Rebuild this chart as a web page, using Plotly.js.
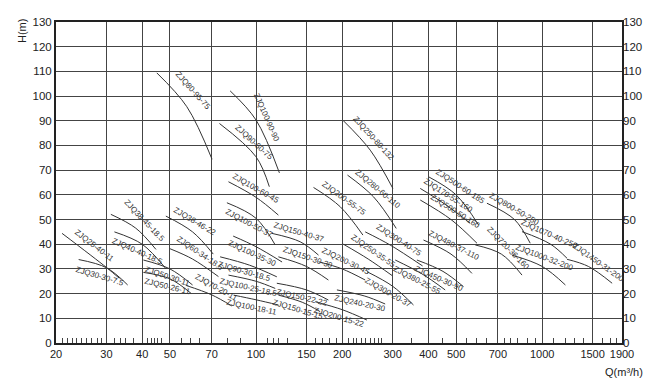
<!DOCTYPE html>
<html><head><meta charset="utf-8">
<script src="https://cdn.plot.ly/plotly-3.0.1.min.js"></script>
<style>html,body{margin:0;padding:0;background:#fff}</style>
</head><body><div id="chart" style="width:670px;height:380px"></div>
<script>
const curveNames = ["ZJQ25-40-11","ZJQ30-30-7.5","ZJQ38-45-18.5","ZJQ40-40-18.5","ZJQ50-30-11","ZJQ50-26-11","ZJQ38-46-22","ZJQ60-34-18.5","ZJQ70-20-11",
"ZJQ80-95-75","ZJQ100-90-90","ZJQ90-80-75","ZJQ100-60-45","ZJQ100-50-37","ZJQ100-35-30","ZJQ90-30-18.5","ZJQ100-25-18.5","ZJQ100-18-11",
"ZJQ150-40-37","ZJQ150-30-30","ZJQ150-22-22","ZJQ150-15-15","ZJQ200-15-22","ZJQ240-20-30","ZJQ200-30-45","ZJQ250-35-55","ZJQ300-20-37","ZJQ300-40-75",
"ZJQ200-55-75","ZJQ280-60-110","ZJQ250-80-132","ZJQ380-25-55","ZJQ450-30-90","ZJQ480-37-110","ZJQ500-50-160","ZJQ170-55-160","ZJQ500-60-185",
"ZJQ720-36-160","ZJQ800-50-250","ZJQ1000-32-200","ZJQ1070-40-250","ZJQ1450-31-200"];
const curveQ = [
[21,30,33.3],[24,30,35.6],[31.1,38,44.7],[32,40,48.5],[40.4,50,60],[40.4,50,59.3],[48.4,60,70.9],[50,60,73.9],[57,70,82.3],
[45,57.3,70.2],[81.2,100,120.7],[74.5,100,111.3],[80.1,100,119.7],[79.1,100,116.7],[83.2,100,123.3],[74.9,95,118.2],[80.1,100,116.7],[83.5,100,119.7],
[113.6,142.6,165.3],[119.7,150,179],[118.2,150,179],[119.7,145,167.5],[161,200,244],[191.7,240,282.6],[165.3,200,240.7],[202,246.6,299],[244,300,354.9],[240.7,294,381.9],
[158.8,196.8,236.3],[208.7,257.3,309],[202,250.6,300.7],[306.4,380,458],[364.9,450,531],[384.7,480,568],[374.8,480,591.6],[374.8,460,560],[401,500,599],
[583.6,720,849.9],[641,800,908],[784,1000,1205],[849.9,1070,1221],[1221,1450,1755]];
const curveH = [
[44.4,30.6,26.2],[33.8,30.5,23.5],[52.1,46.5,37.9],[45,40,30],[33.6,30,23.5],[28.6,26,20.1],[51.4,45,36],[38.2,34,26.9],[23.3,19.5,15],
[109.4,95.7,74.4],[102.1,90.3,68.9],[88.9,75.4,63.3],[65.3,59,51.8],[56.8,50.5,39.7],[43.3,39,32.8],[34.9,31.5,26.8],[27.5,25,22.1],[19.4,17.5,15.4],
[44.4,41,35.6],[34.9,31,25.5],[24.2,21.5,17.4],[19.4,16.5,12.7],[16.7,13.5,9.3],[21.5,19,15.8],[32.9,30,25.5],[40,34,27.3],[28.9,23,15.4],[45,39.7,31.2],
[63,55.2,43.7],[68,59.2,46.4],[90,78.1,62.6],[33.6,28,21.5],[33.6,29,22.8],[41.7,36,28.2],[57.9,50,40.4],[62.6,56,48.5],[67.3,60,47.8],
[39.7,36,27.5],[56.6,50,40.4],[35.6,31,23.5],[45.1,40,34.3],[33.9,31,24.2]];
const xTickVals = [20,30,40,50,70,100,150,200,300,400,500,700,1000,1500,1900];
const yTickVals = [0,10,20,30,40,50,60,70,80,90,100,110,120,130];
const minorTickVals = [21.1,21.9,22.8,23.6,24.5,25.5,26.7,27.9,28.9,31.9,33.6,35.1,37.2,41.9,43.1,44.2,45.4,46.6,55,59,63.3,79.3,87.9,
109.6,114.7,119.9,128.9,161.2,170.9,180.4,190.4,210.5,219.4,225.2,234.2,240.6,252,258.9,266.8,274,349.3,449,544,589,638,741,776,818,887,944,1096,1202,1300,1390,1621,1733,1820];

// label placement along each curve (fraction of length, perpendicular offset in px; + = upper-right side)
const labelT = [0.45,0.45,0.5,0.45,0.5,0.5,0.45,0.5,0.55, 0.36,0.42,0.47,0.45,0.45,0.45,0.45,0.45,0.45, 0.5,0.5,0.5,0.5,0.5,0.5,0.5,0.5,0.5,0.5, 0.45,0.45,0.4,0.5,0.5,0.5,0.5,0.45,0.45, 0.5,0.45,0.5,0.5,0.55];
const labelOff = [10,-10,11,-9,-8,-8,10,9,9, 15,11,9,8,-8,-8,-8,-8,-8, 9,9,-8,-8,-8,-8,9,9,-8,9, 9,9,10,-8,-8,9,9,9,9, 9,9,9,9,9];

const W=670, Ht=380, M={l:56,r:48,t:22,b:37};
const pw=W-M.l-M.r, ph=Ht-M.t-M.b;
const xr=[Math.log10(20), Math.log10(1900)];
const kx=pw/(xr[1]-xr[0]), ky=ph/130;
function toPx(q,h){return [(Math.log10(q)-xr[0])*kx, -h*ky];}
function labelFor(i){
  const pts=curveQ[i].map((q,j)=>toPx(q,curveH[i][j]));
  const segs=[]; let total=0;
  for(let j=0;j<pts.length-1;j++){const l=Math.hypot(pts[j+1][0]-pts[j][0],pts[j+1][1]-pts[j][1]);segs.push(l);total+=l;}
  let target=labelT[i]*total, j=0;
  while(j<segs.length-1 && target>segs[j]){target-=segs[j];j++;}
  const f=Math.min(1,target/segs[j]);
  const dx=pts[j+1][0]-pts[j][0], dy=pts[j+1][1]-pts[j][1], l=segs[j];
  const px=pts[j][0]+dx*f, py=pts[j][1]+dy*f;
  const cx=px+dy/l*labelOff[i], cy=py-dx/l*labelOff[i];
  return {x:xr[0]+cx/kx, y:-cy/ky, textangle:Math.atan2(dy,dx)*180/Math.PI};
}

const font='"Liberation Sans", Arial, sans-serif';
const traces=curveNames.map((n,i)=>({x:curveQ[i],y:curveH[i],type:'scatter',mode:'lines',
  line:{color:'#333',width:1,shape:'spline',smoothing:1},hoverinfo:'skip',showlegend:false}));
traces.push({x:[100],y:[0],yaxis:'y2',mode:'markers',marker:{opacity:0},hoverinfo:'skip',showlegend:false});

const annotations=curveNames.map((n,i)=>{const p=labelFor(i);return {x:p.x,y:p.y,xref:'x',yref:'y',xanchor:'center',yanchor:'middle',text:n,showarrow:false,
  textangle:p.textangle,font:{size:8,family:font,color:'#333'}};});
annotations.push({x:(22-M.l)/pw,y:(Ht-M.b-31)/ph,xref:'paper',yref:'paper',xanchor:'center',yanchor:'middle',text:'H(m)',showarrow:false,textangle:-90,font:{size:11,family:font,color:'#222'}});
annotations.push({x:(624-M.l)/pw,y:(Ht-M.b-371.5)/ph,xref:'paper',yref:'paper',xanchor:'center',yanchor:'middle',text:'Q(m³/h)',showarrow:false,font:{size:11,family:font,color:'#222'}});

const layout={width:W,height:Ht,margin:M,paper_bgcolor:'#fff',plot_bgcolor:'#fff',showlegend:false,
  xaxis:{type:'log',range:xr,tickmode:'array',tickvals:xTickVals,ticktext:xTickVals.map(String),showgrid:true,gridcolor:'#444',gridwidth:1,
    showline:true,linecolor:'#222',linewidth:2,mirror:true,ticks:'',zeroline:false,tickfont:{size:11,family:font,color:'#222'},
    minor:{tickmode:'array',tickvals:minorTickVals,ticks:'inside',ticklen:5,tickcolor:'#444',tickwidth:1,showgrid:false}},
  yaxis:{range:[0,130],tickmode:'array',tickvals:yTickVals,showgrid:true,gridcolor:'#444',gridwidth:1,showline:true,linecolor:'#222',linewidth:2,
    mirror:true,ticks:'',zeroline:false,tickfont:{size:11.5,family:font,color:'#222'}},
  yaxis2:{range:[0,130],overlaying:'y',side:'right',tickmode:'array',tickvals:yTickVals,showgrid:false,showline:false,ticks:'',zeroline:false,
    tickfont:{size:11.5,family:font,color:'#222'}},
  annotations:annotations};
Plotly.newPlot('chart',traces,layout,{staticPlot:true});
</script></body></html>
